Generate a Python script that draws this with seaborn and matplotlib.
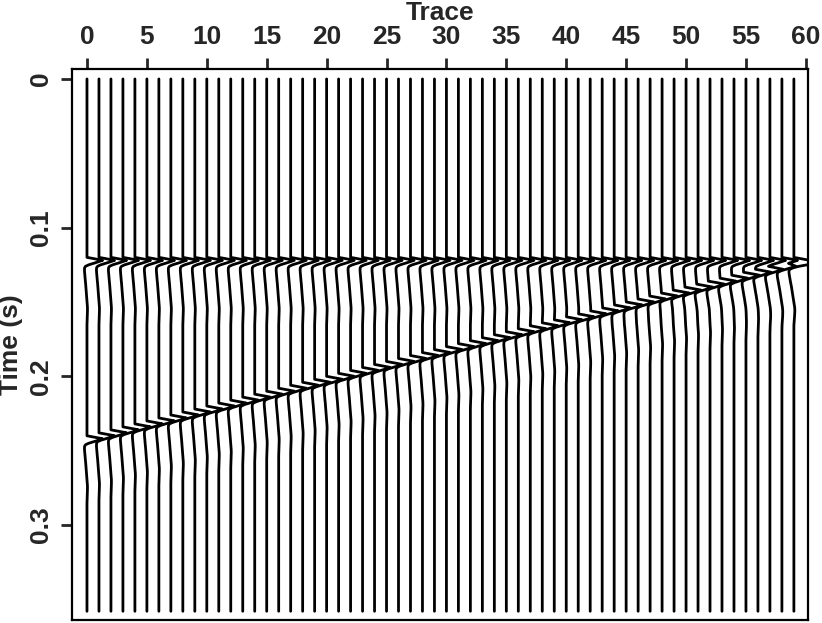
import numpy as np
import pandas as pd
import matplotlib
matplotlib.use('Agg')
import matplotlib.pyplot as plt
import seaborn as sns

# Data
n_traces = 60
trace_ids = list(range(n_traces))
t_max = 0.358                      # last time sample (s)
flat_event_time = 0.12             # horizontal event (s)
dip_event_first = 0.24             # dipping event time at trace 0 (s)
dip_event_last = 0.122             # dipping event time at trace 59 (s)
wavelet_dt = 0.001
wavelet = [0.0, 0.7, 1.3, 0.95, 0.55, 0.15, -0.12, -0.2, -0.21, -0.21,
           -0.2, -0.19, -0.18, -0.17, -0.16, -0.15, -0.14, -0.12, -0.11, -0.1,
           -0.09, -0.08, -0.07, -0.06, -0.05, -0.04, -0.03, -0.02, -0.01, 0.0,
           0.01, 0.02, 0.03, 0.035, 0.04, 0.04, 0.04, 0.035, 0.03, 0.025,
           0.02, 0.015, 0.01, 0.005, 0.0]
x_ticks = [0, 5, 10, 15, 20, 25, 30, 35, 40, 45, 50, 55, 60]
y_ticks = [0, 0.1, 0.2, 0.3]
y_tick_labels = ['0', '0.1', '0.2', '0.3']

# Build the traces
w_t = np.arange(len(wavelet)) * wavelet_dt
t = np.arange(0, t_max + 1e-9, 0.0005)
rows = []
for i in trace_ids:
  t_dip = dip_event_first + (dip_event_last - dip_event_first) * i / (n_traces - 1)
  amp = np.interp(t - flat_event_time, w_t, wavelet, left=0, right=0)
  amp = amp + np.interp(t - t_dip, w_t, wavelet, left=0, right=0)
  rows.append(pd.DataFrame({'trace': i, 'time': t, 'x': i + amp}))
df = pd.concat(rows, ignore_index=True)

# Plot
sns.set_style('white')
plt.rcParams['font.family'] = ['Liberation Sans', 'DejaVu Sans']
plt.rcParams['font.weight'] = 'bold'

fig = plt.figure(figsize=(8.22, 6.23), dpi=100)
ax = fig.add_axes([0.0876, 0.005, 0.8954, 0.885])
sns.lineplot(data=df, x='x', y='time', units='trace', estimator=None,
             sort=False, orient='y', color='black', linewidth=2.0, ax=ax)

ax.set_xlim(-1.25, 60.18)
ax.set_ylim(0.3638, -0.007)
ax.xaxis.tick_top()
ax.xaxis.set_label_position('top')
ax.set_xticks(x_ticks)
ax.set_xticklabels([str(v) for v in x_ticks], fontsize=19, fontweight='bold')
ax.set_yticks(y_ticks)
ax.set_yticklabels(y_tick_labels, fontsize=19, fontweight='bold',
                   rotation=90, va='center')
ax.tick_params(axis='both', length=8, width=2, pad=6, direction='out',
               left=True, top=True, bottom=False)
ax.set_xlabel('Trace', fontsize=19, fontweight='bold', labelpad=4)
ax.set_ylabel('Time (s)', fontsize=19, fontweight='bold')
ax.yaxis.set_label_coords(-0.066, 0.5)
for s in ax.spines.values():
  s.set_linewidth(1.6)
  s.set_color('black')

fig.savefig('out.png', dpi=100)
